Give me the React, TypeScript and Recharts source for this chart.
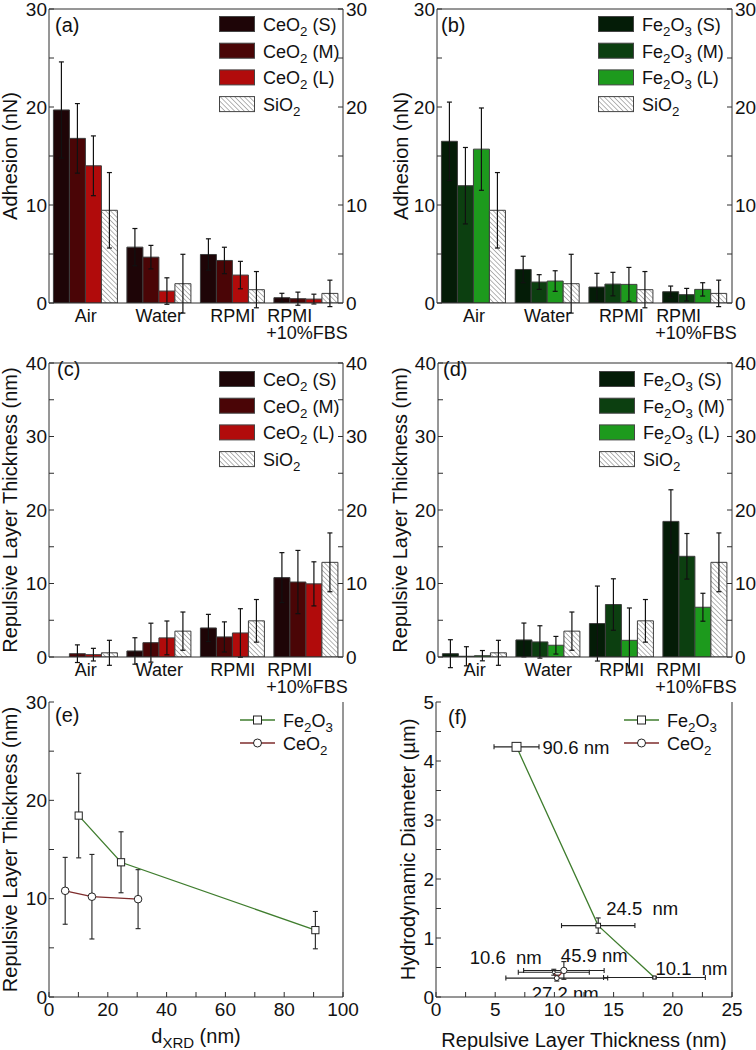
import React from 'react';
import {
  BarChart,
  Bar,
  XAxis,
  YAxis,
  ErrorBar,
  Legend,
  ReferenceLine,
  ScatterChart,
  Scatter,
} from 'recharts';

const FONT = "'Liberation Sans', Arial, Helvetica, sans-serif";
const AXIS = '#2e2e2e';
const INK = '#111';

const CATEGORIES = ['Air', 'Water', 'RPMI', 'RPMI\n+10%FBS'];

const ADH_TICKS = [0, 5, 10, 15, 20, 25, 30];
const THK_TICKS = [0, 5, 10, 15, 20, 25, 30, 35, 40];
const E_X_TICKS = [0, 10, 20, 30, 40, 50, 60, 70, 80, 90, 100];
const E_Y_TICKS = [0, 5, 10, 15, 20, 25, 30];
const F_X_TICKS = [0, 2.5, 5, 7.5, 10, 12.5, 15, 17.5, 20, 22.5, 25];
const F_Y_TICKS = [0, 0.5, 1, 1.5, 2, 2.5, 3, 3.5, 4, 4.5, 5];

// (a) adhesion, CeO2 (nN)
const ADH_CE_S = [19.7, 5.7, 4.95, 0.54];
const ADH_CE_S_ERR = [4.9, 1.9, 1.6, 0.45];
const ADH_CE_M = [16.8, 4.68, 4.34, 0.44];
const ADH_CE_M_ERR = [3.55, 1.2, 1.35, 0.67];
const ADH_CE_L = [14.0, 1.22, 2.85, 0.4];
const ADH_CE_L_ERR = [3.05, 1.35, 1.4, 0.5];
const ADH_SIO2 = [9.46, 1.97, 1.36, 0.98];
const ADH_SIO2_ERR = [3.85, 3.0, 1.85, 1.35];

// (b) adhesion, Fe2O3 (nN)
const ADH_FE_S = [16.5, 3.42, 1.63, 1.15];
const ADH_FE_S_ERR = [4.0, 1.35, 1.4, 0.58];
const ADH_FE_M = [11.97, 2.14, 1.93, 0.85];
const ADH_FE_M_ERR = [3.9, 0.75, 1.2, 0.64];
const ADH_FE_L = [15.7, 2.24, 1.9, 1.39];
const ADH_FE_L_ERR = [4.2, 1.05, 1.73, 0.68];

// (c) repulsive layer thickness, CeO2 (nm)
const THK_CE_S = [0, 0.82, 3.95, 10.8];
const THK_CE_S_ERR = [1.36, 1.8, 1.85, 3.4];
const THK_CE_M = [0.45, 1.95, 2.73, 10.2];
const THK_CE_M_ERR = [1.2, 2.65, 2.05, 4.3];
const THK_CE_L = [0.32, 2.6, 3.27, 9.95];
const THK_CE_L_ERR = [0.86, 2.3, 3.3, 3.0];
const THK_SIO2 = [0.57, 3.52, 4.92, 12.88];
const THK_SIO2_ERR = [1.7, 2.6, 2.9, 4.0];

// (d) repulsive layer thickness, Fe2O3 (nm)
const THK_FE_S = [0.45, 2.32, 4.55, 18.45];
const THK_FE_S_ERR = [1.9, 2.3, 5.1, 4.3];
const THK_FE_M = [0.1, 2.05, 7.14, 13.7];
const THK_FE_M_ERR = [1.3, 2.2, 3.5, 3.1];
const THK_FE_L = [0.18, 1.6, 2.27, 6.77];
const THK_FE_L_ERR = [0.7, 1.2, 4.4, 1.9];

// (e) thickness in RPMI+10%FBS vs crystallite size
const E_FE_D = [10.1, 24.5, 90.6];
const E_FE_T = [18.45, 13.7, 6.8];
const E_FE_T_ERR = [4.3, 3.1, 1.9];
const E_CE_D = [5.5, 14.6, 30.3];
const E_CE_T = [10.8, 10.2, 9.95];
const E_CE_T_ERR = [3.4, 4.3, 3.0];

// (f) hydrodynamic diameter vs thickness, labelled by d_XRD
const F_FE_T = [6.8, 13.7, 18.45];
const F_FE_T_ERR = [1.9, 3.1, 4.3];
const F_FE_DH = [4.24, 1.21, 0.33];
const F_FE_DH_ERR = [0.06, 0.13, 0.02];
const F_FE_LABELS = ['90.6 nm', '24.5  nm', '10.1  nm'];
const F_CE_T = [10.8, 10.2, 9.95];
const F_CE_T_ERR = [3.4, 4.3, 3.0];
const F_CE_DH = [0.45, 0.32, 0.42];
const F_CE_DH_ERR = [0.15, 0.05, 0.05];
const F_CE_LABELS = ['45.9 nm', '27.2 nm', '10.6  nm'];

// label placement relative to marker centre (px)
const F_LABEL_OFFSET: Record<string, [number, number]> = {
  '90.6 nm': [26, 7],
  '24.5  nm': [8, -11],
  '10.1  nm': [1, -3],
  '45.9 nm': [-3, -8],
  '27.2 nm': [-25, 22],
  '10.6  nm': [-84, -8],
};

type Row = Record<string, any>;

const buildBarRows = (cols: Record<string, number[]>): Row[] =>
  CATEGORIES.map((cat, i) => {
    const row: Row = { cat };
    Object.keys(cols).forEach((k) => {
      row[k] = cols[k][i];
    });
    return row;
  });

const buildPoints = (
  x: number[],
  y: number[],
  xErr: number[] | null,
  yErr: number[],
  labels?: string[],
): Row[] =>
  x.map((v, i) => ({
    x: v,
    y: y[i],
    xErr: xErr ? xErr[i] : 0,
    yErr: yErr[i],
    label: labels ? labels[i] : '',
  }));

const adhCeRows = buildBarRows({
  s: ADH_CE_S, sErr: ADH_CE_S_ERR, m: ADH_CE_M, mErr: ADH_CE_M_ERR,
  l: ADH_CE_L, lErr: ADH_CE_L_ERR, si: ADH_SIO2, siErr: ADH_SIO2_ERR,
});
const adhFeRows = buildBarRows({
  s: ADH_FE_S, sErr: ADH_FE_S_ERR, m: ADH_FE_M, mErr: ADH_FE_M_ERR,
  l: ADH_FE_L, lErr: ADH_FE_L_ERR, si: ADH_SIO2, siErr: ADH_SIO2_ERR,
});
const thkCeRows = buildBarRows({
  s: THK_CE_S, sErr: THK_CE_S_ERR, m: THK_CE_M, mErr: THK_CE_M_ERR,
  l: THK_CE_L, lErr: THK_CE_L_ERR, si: THK_SIO2, siErr: THK_SIO2_ERR,
});
const thkFeRows = buildBarRows({
  s: THK_FE_S, sErr: THK_FE_S_ERR, m: THK_FE_M, mErr: THK_FE_M_ERR,
  l: THK_FE_L, lErr: THK_FE_L_ERR, si: THK_SIO2, siErr: THK_SIO2_ERR,
});

const eFePoints = buildPoints(E_FE_D, E_FE_T, null, E_FE_T_ERR);
const eCePoints = buildPoints(E_CE_D, E_CE_T, null, E_CE_T_ERR);
const fFePoints = buildPoints(F_FE_T, F_FE_DH, F_FE_T_ERR, F_FE_DH_ERR, F_FE_LABELS);
const fCePoints = buildPoints(F_CE_T, F_CE_DH, F_CE_T_ERR, F_CE_DH_ERR, F_CE_LABELS);

const CE_SERIES = [
  { key: 's', name: 'CeO2 (S)', fill: '#1e0507' },
  { key: 'm', name: 'CeO2 (M)', fill: '#4a0506' },
  { key: 'l', name: 'CeO2 (L)', fill: '#b10b0b' },
  { key: 'si', name: 'SiO2', fill: 'hatch' },
];
const FE_SERIES = [
  { key: 's', name: 'Fe2O3 (S)', fill: '#041c07' },
  { key: 'm', name: 'Fe2O3 (M)', fill: '#0c3f10' },
  { key: 'l', name: 'Fe2O3 (L)', fill: '#1d9a1d' },
  { key: 'si', name: 'SiO2', fill: 'hatch' },
];

const FE_LINE = '#3f7d2e';
const CE_LINE = '#7e2c2c';

// chemical formula with subscript digits
const chemSpans = (s: string, size: number) => {
  let sub = false;
  return s
    .split(/(\d)/)
    .filter((p) => p !== '')
    .map((p, i) => {
      const isNum = /^\d$/.test(p);
      const dy = isNum && !sub ? 5 : !isNum && sub ? -5 : 0;
      sub = isNum;
      return (
        <tspan key={i} dy={dy} fontSize={isNum ? size * 0.74 : size}>
          {p}
        </tspan>
      );
    });
};

const YTitle = ({ x, y, children }: any) => (
  <text
    x={x}
    y={y}
    transform={`rotate(-90 ${x} ${y})`}
    textAnchor="middle"
    fontSize={20}
    fill={INK}
  >
    {children}
  </text>
);

const PanelLetter = ({ x, y, children }: any) => (
  <text x={x} y={y} fontSize={20} fill={INK}>
    {children}
  </text>
);

const CatTick = ({ x, y, payload }: any) => {
  const lines = String(payload.value).split('\n');
  if (lines.length === 1) {
    return (
      <text x={x} y={y + 19} textAnchor="middle" fontSize={18} fill={INK}>
        {lines[0]}
      </text>
    );
  }
  return (
    <g>
      <text x={x - 39} y={y + 19} fontSize={18} fill={INK}>
        {lines[0]}
      </text>
      <text x={x - 40} y={y + 36} fontSize={18} fill={INK}>
        {lines[1]}
      </text>
    </g>
  );
};

const BarLegend = ({ series, hatchId }: any) => (
  <svg width={160} height={110} style={{ overflow: 'visible', display: 'block' }}>
    {series.map((it: any, i: number) => (
      <g key={it.key} transform={`translate(0, ${i * 26.7})`}>
        <rect
          x={0.5}
          y={0.5}
          width={35}
          height={15}
          fill={it.fill === 'hatch' ? `url(#${hatchId})` : it.fill}
          stroke="#444"
        />
        <text x={44} y={15} fontSize={18} fill={INK} style={{ whiteSpace: 'pre' }}>
          {chemSpans(it.name, 18)}
        </text>
      </g>
    ))}
  </svg>
);

const LineLegend = () => (
  <svg width={120} height={45} style={{ overflow: 'visible', display: 'block' }}>
    <line x1={0} y1={8} x2={35} y2={8} stroke={FE_LINE} strokeWidth={1.3} />
    <rect x={13.5} y={4} width={8} height={8} fill="#fff" stroke="#222" />
    <text x={43} y={15} fontSize={18} fill={INK}>
      {chemSpans('Fe2O3', 18)}
    </text>
    <line x1={0} y1={31} x2={35} y2={31} stroke={CE_LINE} strokeWidth={1.3} />
    <circle cx={17.5} cy={31} r={4} fill="#fff" stroke="#222" />
    <text x={43} y={38} fontSize={18} fill={INK}>
      {chemSpans('CeO2', 18)}
    </text>
  </svg>
);

const tenOnly = (v: number) => (v % 10 === 0 ? String(v) : '');

function BarPanel({
  left, top, width, height, plot, data, series, ticks, yTitle, letter,
  titleX, letterX, letterY, legendX, legendY, hatchId,
}: any) {
  const yMax = ticks[ticks.length - 1];
  const axisProps = {
    domain: [0, yMax],
    ticks,
    interval: 0 as const,
    tickSize: -5,
    tickFormatter: tenOnly,
    axisLine: { stroke: AXIS },
    tickLine: { stroke: AXIS },
    tick: { fontSize: 19, fill: INK },
    allowDataOverflow: true,
  };
  return (
    <div style={{ position: 'absolute', left, top }}>
      <BarChart
        width={width}
        height={height}
        data={data}
        margin={{ top: plot.top, right: 0, bottom: 0, left: 0 }}
        barCategoryGap="6%"
        barGap={0}
      >
        <defs>
          <pattern
            id={hatchId}
            patternUnits="userSpaceOnUse"
            width={3.4}
            height={3.4}
            patternTransform="rotate(-45)"
          >
            <rect width={3.4} height={3.4} fill="#fff" />
            <line x1={0} y1={0} x2={0} y2={3.4} stroke="#5a5a5a" strokeWidth={0.9} />
          </pattern>
        </defs>
        <XAxis
          dataKey="cat"
          height={height - plot.bottom}
          tickLine={false}
          tickSize={0}
          tickMargin={0}
          interval={0}
          axisLine={{ stroke: AXIS }}
          tick={(p: any) => <CatTick {...p} />}
        />
        <YAxis {...axisProps} width={plot.left} tickMargin={7} />
        <YAxis
          {...axisProps}
          yAxisId="right"
          orientation="right"
          width={width - plot.right}
          tickMargin={8}
        />
        <ReferenceLine y={yMax} stroke={AXIS} ifOverflow="extendDomain" />
        {series.map((s: any) => (
          <Bar
            key={s.key}
            dataKey={s.key}
            name={s.name}
            fill={s.fill === 'hatch' ? `url(#${hatchId})` : s.fill}
            stroke="#3e3e3e"
            strokeWidth={1}
            isAnimationActive={false}
          >
            <ErrorBar
              dataKey={`${s.key}Err`}
              width={2.5}
              stroke="#111"
              strokeWidth={1.2}
              isAnimationActive={false}
            />
          </Bar>
        ))}
        <Legend
          layout="vertical"
          align="center"
          verticalAlign="middle"
          wrapperStyle={{ left: legendX, top: legendY, width: 160 }}
          content={() => <BarLegend series={series} hatchId={hatchId} />}
        />
        <YTitle x={titleX} y={(plot.top + plot.bottom) / 2}>
          {yTitle}
        </YTitle>
        <PanelLetter x={letterX} y={letterY}>
          {letter}
        </PanelLetter>
      </BarChart>
    </div>
  );
}

const squareShape = (halfFor: (p: any) => number, withLabel: boolean) => (p: any) => {
  const h = halfFor(p);
  const label = p.payload?.label;
  const off = label ? F_LABEL_OFFSET[label] : null;
  return (
    <g>
      <rect x={p.cx - h} y={p.cy - h} width={2 * h} height={2 * h} fill="#fff" stroke="#222" strokeWidth={1} />
      {withLabel && off && (
        <text x={p.cx + off[0]} y={p.cy + off[1]} fontSize={18.5} fill={INK} style={{ whiteSpace: 'pre' }}>
          {label}
        </text>
      )}
    </g>
  );
};

const circleShape = (rFor: (p: any) => number, withLabel: boolean) => (p: any) => {
  const r = rFor(p);
  const label = p.payload?.label;
  const off = label ? F_LABEL_OFFSET[label] : null;
  return (
    <g>
      <circle cx={p.cx} cy={p.cy} r={r} fill="#fff" stroke="#222" strokeWidth={1} />
      {withLabel && off && (
        <text x={p.cx + off[0]} y={p.cy + off[1]} fontSize={18.5} fill={INK} style={{ whiteSpace: 'pre' }}>
          {label}
        </text>
      )}
    </g>
  );
};

// marker size follows the particle size in the label
const sizeFromLabel = (p: any) => 0.47 * Math.sqrt(parseFloat(p.payload?.label || '10'));

function ScatterPanel({
  left, top, width, height, plot, xTicks, yTicks, xFormat, yFormat,
  fe, ce, xErr, sized, yTitle, xTitle, titleX, xTitleY, letter, letterX, letterY, legendX,
}: any) {
  const xMax = xTicks[xTicks.length - 1];
  const yMax = yTicks[yTicks.length - 1];
  const common = {
    type: 'number' as const,
    interval: 0 as const,
    tickSize: -5,
    axisLine: { stroke: AXIS },
    tickLine: { stroke: AXIS },
    allowDataOverflow: true,
  };
  return (
    <div style={{ position: 'absolute', left, top }}>
      <ScatterChart
        width={width}
        height={height}
        margin={{ top: plot.top, right: 0, bottom: 0, left: 0 }}
      >
        <XAxis
          {...common}
          dataKey="x"
          domain={[0, xMax]}
          ticks={xTicks}
          height={height - plot.bottom}
          tickMargin={11}
          tickFormatter={xFormat}
          tick={{ fontSize: 19, fill: INK }}
        />
        <XAxis
          {...common}
          xAxisId="top"
          orientation="top"
          domain={[0, xMax]}
          ticks={xTicks}
          height={0}
          tick={false}
        />
        <YAxis
          {...common}
          dataKey="y"
          domain={[0, yMax]}
          ticks={yTicks}
          width={plot.left}
          tickMargin={7}
          tickFormatter={yFormat}
          tick={{ fontSize: 19, fill: INK }}
        />
        <YAxis
          {...common}
          yAxisId="right"
          orientation="right"
          domain={[0, yMax]}
          ticks={yTicks}
          width={width - plot.right}
          tick={false}
        />
        <Scatter
          name="Fe2O3"
          data={fe}
          line={{ stroke: FE_LINE, strokeWidth: 1.3 }}
          lineType="joint"
          shape={squareShape(sized ? sizeFromLabel : () => 3.6, sized)}
          isAnimationActive={false}
        >
          <ErrorBar dataKey="yErr" direction="y" width={2.5} stroke="#222" strokeWidth={1.1} isAnimationActive={false} />
          {xErr && (
            <ErrorBar dataKey="xErr" direction="x" width={2.5} stroke="#222" strokeWidth={1.1} isAnimationActive={false} />
          )}
        </Scatter>
        <Scatter
          name="CeO2"
          data={ce}
          line={{ stroke: CE_LINE, strokeWidth: 1.3 }}
          lineType="joint"
          shape={circleShape(sized ? (p: any) => sizeFromLabel(p) : () => 3.8, sized)}
          isAnimationActive={false}
        >
          <ErrorBar dataKey="yErr" direction="y" width={2.5} stroke="#222" strokeWidth={1.1} isAnimationActive={false} />
          {xErr && (
            <ErrorBar dataKey="xErr" direction="x" width={2.5} stroke="#222" strokeWidth={1.1} isAnimationActive={false} />
          )}
        </Scatter>
        <Legend
          layout="vertical"
          align="center"
          verticalAlign="middle"
          wrapperStyle={{ left: legendX, top: 32, width: 120 }}
          content={() => <LineLegend />}
        />
        <YTitle x={titleX} y={(plot.top + plot.bottom) / 2}>
          {yTitle}
        </YTitle>
        <text x={(plot.left + plot.right) / 2} y={xTitleY} textAnchor="middle" fontSize={20} fill={INK}>
          {xTitle}
        </text>
        <PanelLetter x={letterX} y={letterY}>
          {letter}
        </PanelLetter>
      </ScatterChart>
    </div>
  );
}

export default function App() {
  return (
    <div
      style={{
        position: 'absolute',
        left: 0,
        top: 0,
        width: 756,
        height: 1050,
        background: '#fff',
        overflow: 'hidden',
        fontFamily: FONT,
      }}
    >
      <BarPanel
        left={0} top={0} width={378} height={352}
        plot={{ left: 49, right: 343, top: 9, bottom: 303 }}
        data={adhCeRows} series={CE_SERIES} ticks={ADH_TICKS}
        yTitle="Adhesion (nN)" letter="(a)"
        titleX={17} letterX={55} letterY={32}
        legendX={219} legendY={16} hatchId="hatch-a"
      />
      <BarPanel
        left={378} top={0} width={378} height={352}
        plot={{ left: 59, right: 354, top: 9, bottom: 303 }}
        data={adhFeRows} series={FE_SERIES} ticks={ADH_TICKS}
        yTitle="Adhesion (nN)" letter="(b)"
        titleX={30} letterX={63} letterY={32}
        legendX={220} legendY={16} hatchId="hatch-b"
      />
      <BarPanel
        left={0} top={340} width={378} height={372}
        plot={{ left: 49, right: 343, top: 23, bottom: 317 }}
        data={thkCeRows} series={CE_SERIES} ticks={THK_TICKS}
        yTitle="Repulsive Layer Thickness (nm)" letter="(c)"
        titleX={17} letterX={57} letterY={36}
        legendX={219} legendY={31} hatchId="hatch-c"
      />
      <BarPanel
        left={378} top={340} width={378} height={372}
        plot={{ left: 60, right: 354, top: 23, bottom: 317 }}
        data={thkFeRows} series={FE_SERIES} ticks={THK_TICKS}
        yTitle="Repulsive Layer Thickness (nm)" letter="(d)"
        titleX={29} letterX={65} letterY={36}
        legendX={221} legendY={31} hatchId="hatch-d"
      />
      <ScatterPanel
        left={0} top={680} width={378} height={370}
        plot={{ left: 49, right: 343, top: 22, bottom: 317 }}
        xTicks={E_X_TICKS} yTicks={E_Y_TICKS}
        xFormat={(v: number) => (v % 20 === 0 ? String(v) : '')}
        yFormat={tenOnly}
        fe={eFePoints} ce={eCePoints} xErr={false} sized={false}
        yTitle="Repulsive Layer Thickness (nm)"
        xTitle={<>d<tspan dy={5} fontSize={15}>XRD</tspan><tspan dy={-5}> (nm)</tspan></>}
        titleX={17} xTitleY={363} letter="(e)" letterX={55} letterY={42} legendX={240}
      />
      <ScatterPanel
        left={378} top={680} width={378} height={370}
        plot={{ left: 58, right: 354, top: 22, bottom: 317 }}
        xTicks={F_X_TICKS} yTicks={F_Y_TICKS}
        xFormat={(v: number) => (v % 5 === 0 ? String(v) : '')}
        yFormat={(v: number) => (Number.isInteger(v) ? String(v) : '')}
        fe={fFePoints} ce={fCePoints} xErr={true} sized={true}
        yTitle="Hydrodynamic Diameter (µm)"
        xTitle="Repulsive Layer Thickness (nm)"
        titleX={37} xTitleY={367} letter="(f)" letterX={70} letterY={44} legendX={246}
      />
    </div>
  );
}
